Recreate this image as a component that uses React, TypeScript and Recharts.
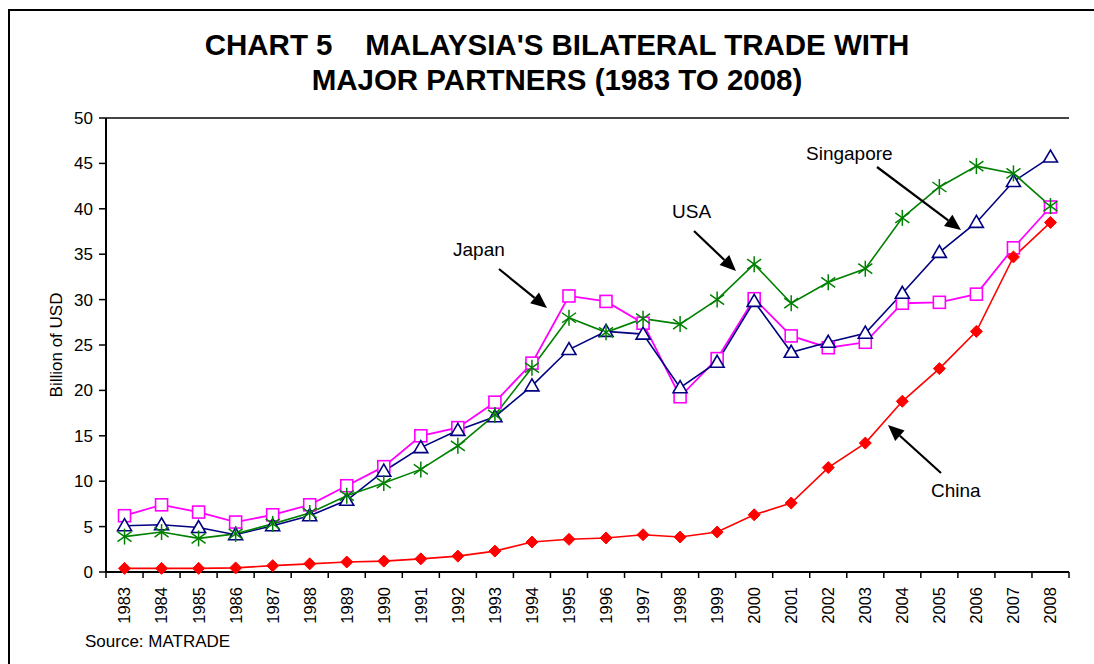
import { LineChart, Line, XAxis, YAxis, ReferenceLine } from "recharts";

const years = [
  "1983", "1984", "1985", "1986", "1987", "1988", "1989", "1990", "1991",
  "1992", "1993", "1994", "1995", "1996", "1997", "1998", "1999", "2000",
  "2001", "2002", "2003", "2004", "2005", "2006", "2007", "2008",
];

const japan = [
  6.2, 7.4, 6.6, 5.5, 6.3, 7.4, 9.5, 11.6, 15.0, 15.9, 18.7, 23.0, 30.4,
  29.8, 27.4, 19.3, 23.5, 30.1, 26.0, 24.7, 25.3, 29.6, 29.7, 30.6, 35.7, 40.2,
];

const usa = [
  5.1, 5.2, 4.9, 4.1, 5.1, 6.2, 7.9, 11.1, 13.7, 15.6, 17.1, 20.5, 24.5,
  26.5, 26.2, 20.3, 23.1, 29.8, 24.2, 25.3, 26.3, 30.7, 35.2, 38.5, 43.0, 45.7,
];

const singapore = [
  3.9, 4.4, 3.7, 4.2, 5.3, 6.5, 8.4, 9.8, 11.3, 13.9, 17.3, 22.5, 28.0,
  26.4, 27.9, 27.3, 30.0, 33.9, 29.6, 31.9, 33.4, 39.0, 42.4, 44.7, 43.9, 40.3,
];

const china = [
  0.4, 0.4, 0.4, 0.45, 0.7, 0.9, 1.1, 1.2, 1.45, 1.75, 2.3, 3.3, 3.6, 3.75,
  4.1, 3.85, 4.4, 6.3, 7.6, 11.5, 14.2, 18.8, 22.4, 26.5, 34.7, 38.5,
];

const yTicks = [0, 5, 10, 15, 20, 25, 30, 35, 40, 45, 50];

const data = years.map((year, i) => ({
  year,
  japan: japan[i],
  usa: usa[i],
  singapore: singapore[i],
  china: china[i],
}));

const FONT = "'Liberation Sans', Arial, sans-serif";
const W = 1094;
const H = 664;
const M = { top: 118, right: 25, left: 50, bottom: 32 };
const Y_AXIS_W = 56;
const BAND = (W - M.left - Y_AXIS_W - M.right) / years.length;

const SquareDot = (props: any) => {
  const { cx, cy, index } = props;
  if (cx == null || cy == null) return null;
  return (
    <rect
      key={`sq-${index}`}
      x={cx - 6}
      y={cy - 6}
      width={12}
      height={12}
      fill="#fff"
      stroke="#FF00FF"
      strokeWidth={1.6}
    />
  );
};

const TriangleDot = (props: any) => {
  const { cx, cy, index } = props;
  if (cx == null || cy == null) return null;
  return (
    <polygon
      key={`tr-${index}`}
      points={`${cx},${cy - 7} ${cx - 7},${cy + 5} ${cx + 7},${cy + 5}`}
      fill="#fff"
      stroke="#000080"
      strokeWidth={1.6}
    />
  );
};

const StarDot = (props: any) => {
  const { cx, cy, index } = props;
  if (cx == null || cy == null) return null;
  return (
    <g key={`st-${index}`} stroke="#008000" strokeWidth={1.5}>
      <line x1={cx} y1={cy - 8} x2={cx} y2={cy + 8} />
      <line x1={cx - 7} y1={cy - 5} x2={cx + 7} y2={cy + 5} />
      <line x1={cx - 7} y1={cy + 5} x2={cx + 7} y2={cy - 5} />
    </g>
  );
};

const DiamondDot = (props: any) => {
  const { cx, cy, index } = props;
  if (cx == null || cy == null) return null;
  return (
    <polygon
      key={`dm-${index}`}
      points={`${cx},${cy - 6} ${cx + 6},${cy} ${cx},${cy + 6} ${cx - 6},${cy}`}
      fill="#FF0000"
      stroke="#FF0000"
    />
  );
};

// category labels sit in the middle, tick marks on the band edges
const YearTick = (props: any) => {
  const { x, y, payload, index } = props;
  const ty = y + 15;
  return (
    <g>
      <line x1={x - BAND / 2} x2={x - BAND / 2} y1={y} y2={y + 6} stroke="#000" strokeWidth={1.5} />
      {index === years.length - 1 && (
        <line x1={x + BAND / 2} x2={x + BAND / 2} y1={y} y2={y + 6} stroke="#000" strokeWidth={1.5} />
      )}
      <text
        x={x}
        y={ty}
        transform={`rotate(-90 ${x} ${ty})`}
        textAnchor="end"
        dy="0.36em"
        fontSize={16.5}
        fontFamily={FONT}
        fill="#000"
      >
        {payload.value}
      </text>
    </g>
  );
};

const Arrow = ({ x1, y1, x2, y2 }: { x1: number; y1: number; x2: number; y2: number }) => {
  const a = Math.atan2(y2 - y1, x2 - x1);
  const len = 16;
  const half = 7;
  const bx = x2 - len * Math.cos(a);
  const by = y2 - len * Math.sin(a);
  const px = -Math.sin(a) * half;
  const py = Math.cos(a) * half;
  return (
    <g>
      <line x1={x1} y1={y1} x2={bx} y2={by} stroke="#000" strokeWidth={2.2} />
      <polygon points={`${x2},${y2} ${bx + px},${by + py} ${bx - px},${by - py}`} fill="#000" />
    </g>
  );
};

const labelStyle = { fontSize: 19, fontFamily: FONT, fill: "#000" };

export default function App() {
  return (
    <div style={{ position: "absolute", left: 0, top: 0, width: W, height: H, background: "#fff" }}>
      <LineChart width={W} height={H} data={data} margin={M}>
        <XAxis
          dataKey="year"
          interval={0}
          height={60}
          padding={{ left: BAND / 2, right: BAND / 2 }}
          tickSize={0}
          tickMargin={0}
          tickLine={false}
          axisLine={{ stroke: "#000", strokeWidth: 2 }}
          tick={<YearTick />}
        />
        <YAxis
          domain={[0, 50]}
          ticks={yTicks}
          width={Y_AXIS_W}
          tickSize={7}
          tickMargin={6}
          axisLine={{ stroke: "#000", strokeWidth: 2 }}
          tickLine={{ stroke: "#000", strokeWidth: 1.5 }}
          tick={{ fill: "#000", fontSize: 17, fontFamily: FONT }}
        />
        <YAxis
          yAxisId="right"
          orientation="right"
          domain={[0, 50]}
          width={0}
          tick={false}
          tickLine={false}
          axisLine={{ stroke: "#000", strokeWidth: 1.5 }}
        />
        <ReferenceLine y={50} stroke="#444" strokeWidth={2} />
        <Line
          dataKey="japan"
          stroke="#FF00FF"
          strokeWidth={1.8}
          dot={SquareDot}
          isAnimationActive={false}
        />
        <Line
          dataKey="usa"
          stroke="#000080"
          strokeWidth={1.6}
          dot={TriangleDot}
          isAnimationActive={false}
        />
        <Line
          dataKey="singapore"
          stroke="#008000"
          strokeWidth={1.6}
          dot={StarDot}
          isAnimationActive={false}
        />
        <Line
          dataKey="china"
          stroke="#FF0000"
          strokeWidth={1.6}
          dot={DiamondDot}
          isAnimationActive={false}
        />
      </LineChart>
      <svg
        width={W}
        height={H}
        style={{ position: "absolute", left: 0, top: 0, pointerEvents: "none" }}
      >
        <polyline points={`9,${H + 5} 9,10 ${W + 5},10`} fill="none" stroke="#000" strokeWidth={2} />
        <text
          x={557}
          y={55}
          textAnchor="middle"
          fontSize={29.5}
          fontWeight="bold"
          fontFamily={FONT}
          style={{ whiteSpace: "pre" }}
        >
          {"CHART 5    MALAYSIA'S BILATERAL TRADE WITH"}
        </text>
        <text x={557} y={90} textAnchor="middle" fontSize={29.5} fontWeight="bold" fontFamily={FONT}>
          MAJOR PARTNERS (1983 TO 2008)
        </text>
        <text
          x={62}
          y={345}
          transform="rotate(-90 62 345)"
          textAnchor="middle"
          fontSize={17}
          fontFamily={FONT}
        >
          Billion of USD
        </text>
        <text x={85} y={647} fontSize={17} fontFamily={FONT}>
          Source: MATRADE
        </text>

        <text x={453} y={256} {...labelStyle}>Japan</text>
        <Arrow x1={499} y1={269} x2={547} y2={308} />
        <text x={672} y={218} {...labelStyle}>USA</text>
        <Arrow x1={694} y1={231} x2={736} y2={271} />
        <text x={806} y={160} {...labelStyle}>Singapore</text>
        <Arrow x1={877} y1={167} x2={961} y2={230} />
        <text x={931} y={497} {...labelStyle}>China</text>
        <Arrow x1={941} y1={473} x2={888} y2={425} />
      </svg>
    </div>
  );
}
